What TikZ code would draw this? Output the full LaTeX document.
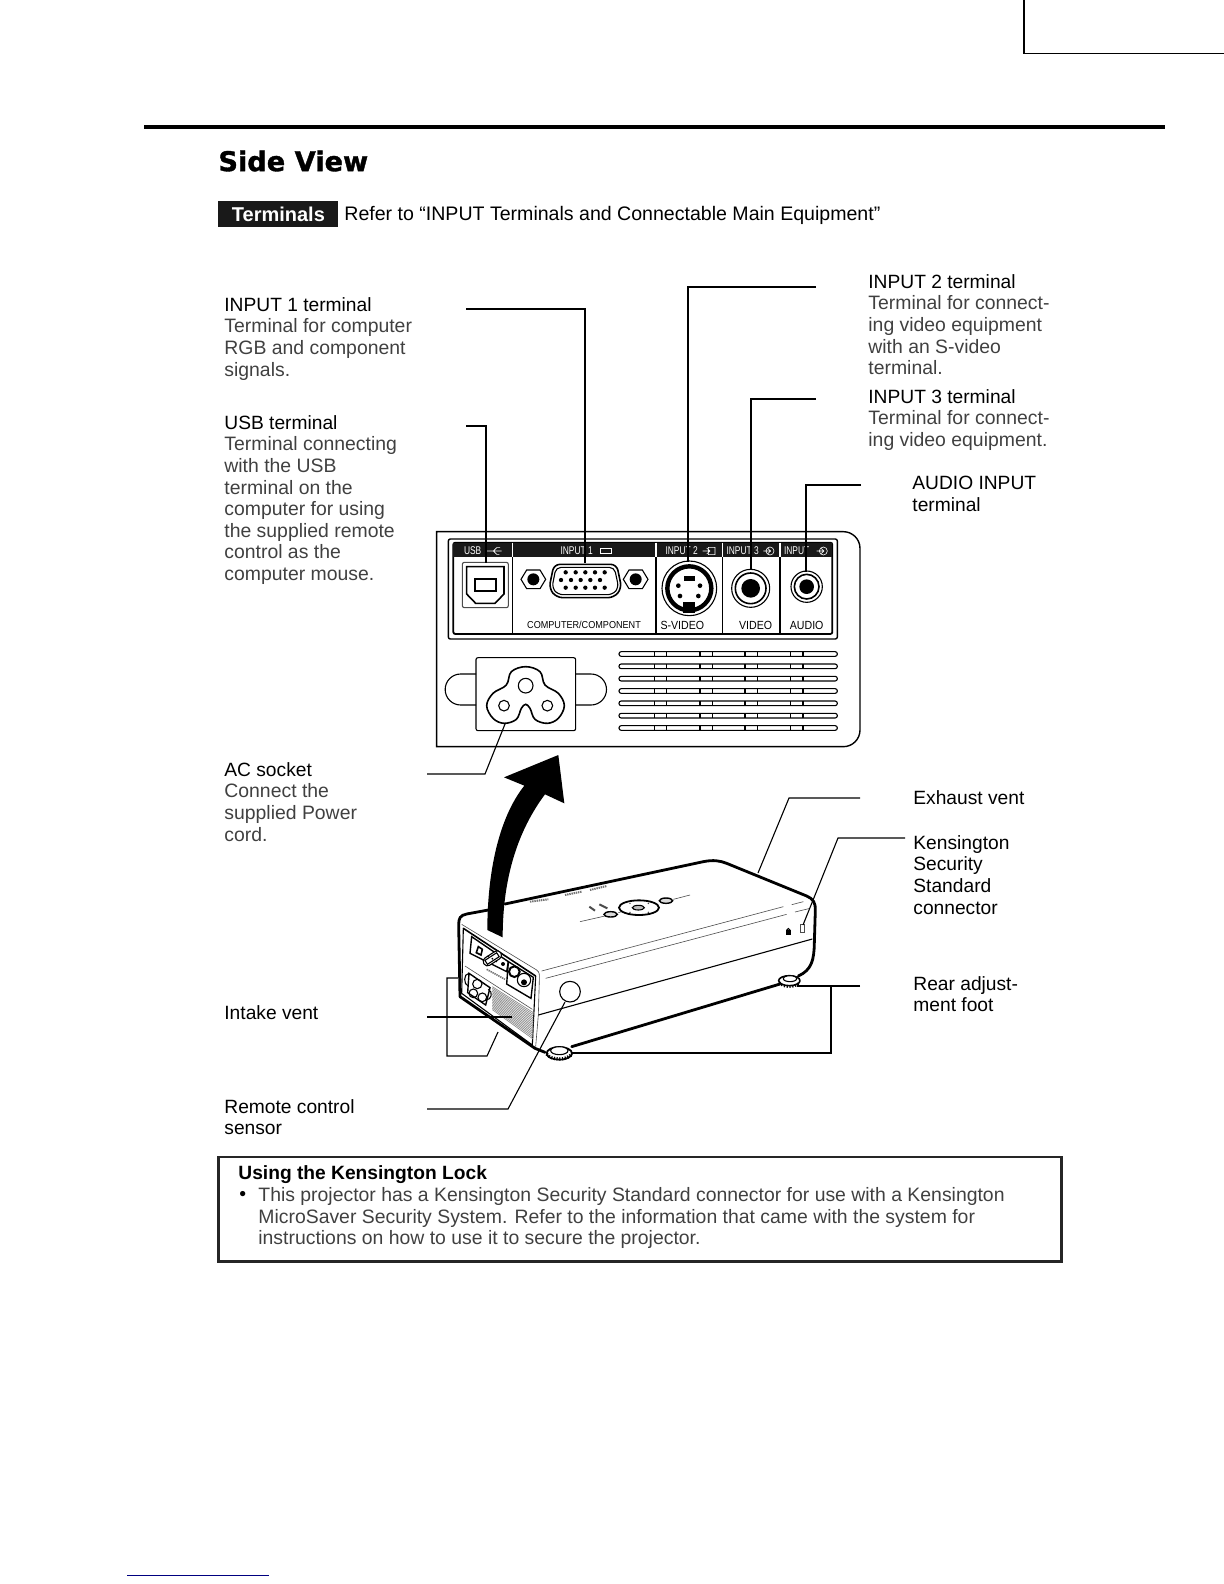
\documentclass[tikz,border=0pt]{standalone}
\usepackage{fontspec}
\setmainfont{Liberation Sans}
\newfontfamily\headfont[BoldFeatures={FakeBold=1.3}]{DejaVu Sans}
\newfontfamily\panelfont[FakeStretch=0.9]{Liberation Sans}
\newfontfamily\tabfont[FakeStretch=0.75]{Liberation Sans}
\newcommand{\lightpart}{\fontsize{9.7}{10.8}\selectfont\color{black!75}}
\usetikzlibrary{calc}

\begin{document}
\begin{tikzpicture}[
					x=0.5pt, y=-0.5pt,
					lbl/.style={anchor=north west, inner sep=0pt, align=left, font=\fontsize{9.6}{10.8}\selectfont},
					leader/.style={draw=black, line width=0.55pt},
					panelline/.style={draw=black, line width=0.55pt},
					hairline/.style={draw=black!70, line width=0.3pt},
					heavyline/.style={draw=black, line width=1.4pt, line cap=round, line join=round},
					tabtext/.style={inner sep=0pt, text=white, font=\tabfont\fontsize{5.6}{6}\selectfont},
					sockettext/.style={inner sep=0pt, font=\panelfont\fontsize{5.9}{6}\selectfont}
					]
					\useasboundingbox (0,0) rectangle (1224,1584);
					
					% --- Page furniture ---
					\coordinate (cornerbot) at (1024,53.5);
					\coordinate (cornertop) at (1024,0);
					\coordinate (cornerend) at (1224,53.5);
					\draw[line width=0.7pt] (cornertop) -- (cornerbot) -- (cornerend);
					\fill (144,125) rectangle (1165,129);
					\fill[blue!50!black] (127,1574.5) rectangle (269,1576);
					\node[anchor=west, inner sep=0pt, font=\headfont\fontsize{13.6}{16}\selectfont\bfseries] (title) at (218,161) {Side View};
					\node[anchor=west, fill=black!90, text=white, minimum width=60pt, minimum height=13pt, inner sep=0pt, font=\fontsize{10}{12}\selectfont\bfseries] (tab) at (218,214) {Terminals};
					\node[anchor=west, inner sep=0pt, font=\fontsize{9.78}{12}\selectfont] (refer) at (344,215) {Refer to “INPUT Terminals and Connectable Main Equipment”};
					
					% --- Left labels ---
					\node[lbl] (inputone) at (224,297) {INPUT 1 terminal\\\lightpart Terminal for computer\\\lightpart RGB and component\\\lightpart signals.};
					\node[lbl] (usb) at (224,415) {USB terminal\\\lightpart Terminal connecting\\\lightpart with the USB\\\lightpart terminal on the\\\lightpart computer for using\\\lightpart the supplied remote\\\lightpart control as the\\\lightpart computer mouse.};
					\node[lbl] (acsocket) at (224,762) {AC socket\\\lightpart Connect the\\\lightpart supplied Power\\\lightpart cord.};
					\node[lbl] (intake) at (224,1005) {Intake vent};
					\node[lbl] (remote) at (224,1099) {Remote control\\sensor};
					
					% --- Right labels ---
					\node[lbl] (inputtwo) at (868,274) {INPUT 2 terminal\\\lightpart Terminal for connect-\\\lightpart ing video equipment\\\lightpart with an S-video\\\lightpart terminal.};
					\node[lbl] (inputthree) at (868,389) {INPUT 3 terminal\\\lightpart Terminal for connect-\\\lightpart ing video equipment.};
					\node[lbl] (audio) at (912,476) {AUDIO INPUT\\terminal};
					\node[lbl] (exhaust) at (913,790) {Exhaust vent};
					\node[lbl] (kensington) at (913,835) {Kensington\\Security\\Standard\\connector};
					\node[lbl] (rearfoot) at (913,976) {Rear adjust-\\ment foot};
					
					% --- Terminal panel (coordinates of the 3x crop) ---
					\begin{scope}[shift={(430,520)}, scale=1/3]
						\draw[panelline, line width=0.7pt] (20,35) -- (1240,35) arc (-90:0:50) -- (1290,630) arc (0:90:50) -- (20,680) -- cycle;
						\draw[panelline, line width=0.7pt, rounded corners=1pt] (55,57) rectangle (1222,357);
						\draw[panelline, line width=0.9pt, rounded corners=1pt] (70,68) rectangle (1207,342);
						\fill[black!90] (70,68) rectangle (1207,110);
						\foreach \dx in {247,678,877,1050} {
							\draw[panelline] (\dx,110) -- (\dx,342);
							\draw[white, line width=0.7pt] (\dx,68) -- (\dx,110);
						}
						\node[tabtext] (tabusb) at (128,93) {USB};
						\node[tabtext] (tabone) at (440,93) {INPUT 1};
						\node[tabtext] (tabtwo) at (755,93) {INPUT 2};
						\node[tabtext] (tabthree) at (938,93) {INPUT 3};
						\node[tabtext] (tabfour) at (1100,93) {INPUT};
						\draw[white, line width=0.3pt] (170,93) -- (215,93) (190,93) -- (200,83) -- (210,83) (190,93) -- (200,103) -- (208,103);
						\draw[white, line width=0.35pt] (510,84) rectangle (545,100);
						\draw[white, line width=0.3pt] (818,93) -- (840,93) (830,84) -- (840,93) -- (830,102) (835,82) rectangle (855,104);
						\foreach \ix/\iy in {1020/93,1180/93} {
							\draw[white, line width=0.3pt] (\ix,\iy) circle (12) (\ix-20,\iy) -- (\ix+2,\iy) (\ix-6,\iy-7) -- (\ix+2,\iy) -- (\ix-6,\iy+7);
						}
						\node[sockettext, font=\panelfont\fontsize{5.05}{6}\selectfont] (lblcomputer) at (462,316) {COMPUTER/COMPONENT};
						\node[sockettext] (lblsvideo) at (757,316) {S-VIDEO};
						\node[sockettext] (lblvideo) at (977,316) {VIDEO};
						\node[sockettext] (lblaudio) at (1130,316) {AUDIO};
						
						% USB socket
						\draw[panelline, draw=black!70, rounded corners=1pt] (97,127) rectangle (235,263);
						\draw[panelline, line width=0.8pt] (110,140) -- (222,140) -- (222,222) -- (195,250) -- (137,250) -- (110,222) -- cycle;
						\draw[panelline, line width=0.8pt] (135,177) rectangle (198,213);
						
						% VGA socket
						\foreach \nx in {310,617} {
							\draw[panelline, shift={(\nx,178)}] (-37,0) -- (-20,-28) -- (20,-28) -- (37,0) -- (20,28) -- (-20,28) -- cycle;
							\fill (\nx,178) circle (18);
						}
						\draw[panelline, line width=0.8pt, rounded corners=3pt] (372,133) -- (560,133) -- (575,205) -- (552,233) -- (380,233) -- (357,205) -- cycle;
						\draw[panelline, rounded corners=2.5pt] (378,142) -- (553,142) -- (566,203) -- (548,224) -- (384,224) -- (366,203) -- cycle;
						\foreach \px in {407,437,466,495,524} {
							\fill (\px,157) circle (6.5);
							\fill (\px-14,180) circle (6.5);
							\fill (\px,203) circle (6.5);
						}
						
						% S-video socket
						\draw[panelline] (778,205) circle (82);
						\draw[line width=2.2pt] (778,205) circle (66);
						\fill (762,168) rectangle (794,184);
						\fill (760,245) rectangle (796,278);
						\foreach \px/\py in {745/197,810/197,750/228,805/228} {
							\fill (\px,\py) circle (7);
						}
						
						% Video and audio sockets
						\draw[panelline] (962,205) circle (57);
						\draw[panelline, line width=0.8pt] (962,205) circle (46);
						\fill (962,205) circle (28);
						\draw[panelline] (1130,200) circle (47);
						\draw[panelline, line width=0.8pt] (1130,200) circle (37);
						\fill (1130,200) circle (22);
						
						% AC inlet
						\draw[panelline] (138,462) -- (92,462) arc (270:90:46.5) -- (138,555);
						\draw[panelline] (437,462) -- (483,462) arc (-90:90:46.5) -- (437,555);
						\draw[panelline, rounded corners=1pt] (138,413) rectangle (437,632);
						\draw[panelline, line width=0.8pt] plot[smooth cycle, tension=0.6] coordinates {(287,440) (330,455) (345,495) (385,520) (403,557) (385,595) (352,610) (315,598) (300,565) (287,553) (274,565) (259,598) (222,610) (189,595) (170,557) (189,520) (229,495) (244,455)};
						\draw[panelline] (287,497) circle (22);
						\draw[panelline] (222,557) circle (16);
						\draw[panelline] (352,557) circle (16);
						
						% Vent slats
						\foreach \sy in {402,439,476,513,550,587,624} {
							\draw[panelline, rounded corners=1.1pt] (567,\sy-7) rectangle (1222,\sy+7);
							\foreach \sx in {673,710,810,847,945,982,1082,1119} {
								\draw[panelline] (\sx,\sy-7) -- (\sx,\sy+7);
							}
						}
					\end{scope}
					
					% --- Projector body (coordinates of the 3x crop) ---
					\begin{scope}[shift={(430,740)}, scale=1/3]
						\draw[heavyline] (225,492) -- (820,365) .. controls (850,359) and (870,362) .. (890,370) -- (1130,468) .. controls (1150,476) and (1157,490) .. (1156,510) -- (1153,610) .. controls (1152,660) and (1145,690) .. (1105,708);
						\draw[heavyline] (175,510) -- (110,522) .. controls (90,526) and (86,535) .. (86,555) -- (90,770) -- (315,925) -- (345,937);
						\draw[heavyline] (425,920) -- (1050,732);
						\draw[hairline] (95,553) -- (320,690) .. controls (330,697) and (328,705) .. (328,720) -- (325,825) -- (317,920);
						\draw[hairline] (335,693) -- (1060,500) (1085,494) -- (1120,485);
						\draw[hairline] (347,715) -- (1070,523) (1095,516) -- (1140,505);
						\draw[panelline] (325,825) -- (1147,597);
						\draw[hairline] (450,545) -- (525,528) (565,518) -- (575,515) (730,478) -- (780,465);
						\draw[panelline] (420,755) circle (31);
						
						% Controls on the top face
						\draw[panelline, line width=0.9pt] (627,503) ellipse (60 and 22);
						\draw[panelline, fill=black!25] (625,503) ellipse (18 and 7);
						\draw[panelline, line width=0.7pt, fill=black!15] (542,523) ellipse (20 and 8);
						\draw[panelline, line width=0.7pt, fill=black!15] (708,482) ellipse (20 and 8);
						\foreach \px/\py in {600/490,655/490,600/517,655/517} {
							\fill[black!70] (\px,\py) circle (2.5);
						}
						\draw[black!70, line width=1pt] (478,500) -- (495,512) (508,493) -- (532,505);
						\draw[black!55, line width=1pt, dash pattern=on 0.7pt off 0.4pt] (300,485) -- (355,478) (405,465) -- (455,455) (480,450) -- (530,438);
						
						% Lock and slot
						\fill (1068,570) rectangle (1082,585);
						\draw[line width=0.5pt] (1075,570) circle (4.5);
						\draw[hairline] (1112,552) rectangle (1123,578);
						
						% Feet
						\draw[heavyline, line width=0.8pt, fill=white] (1078,722) ellipse (32 and 15);
						\draw[panelline, fill=white] (1080,716) ellipse (20 and 9);
						\draw[heavyline, line width=0.9pt, fill=white] (388,940) ellipse (38 and 19);
						\draw[panelline, fill=white] (388,932) ellipse (26 and 12);
						\draw[black, line width=1.6pt, dash pattern=on 0.6pt off 0.8pt] (350,942) .. controls (365,962) and (410,962) .. (426,942);
						\draw[black, line width=1.3pt, dash pattern=on 0.6pt off 0.8pt] (1048,728) .. controls (1060,744) and (1095,744) .. (1108,728);
					\end{scope}
					
					% --- Rear face of the projector ---
					\begin{scope}[shift={(445,890)}, scale=1/3]
						\draw[heavyline, line width=0.8pt] (55,115) -- (272,258);
						\draw[panelline] (55,115) -- (50,310) -- (262,465) -- (272,258);
						\draw[hairline] (60,228) -- (262,358);
						\draw[panelline, line width=0.7pt] (80,140) -- (190,215) -- (185,245) -- (75,190) -- cycle;
						\draw[panelline, line width=0.7pt] (190,215) -- (265,262) -- (258,325) -- (185,282) -- cycle;
						\draw[panelline, rotate around={33:(142,205)}, rounded corners=2pt, fill=white] (112,192) rectangle (172,218);
						\draw[panelline, rotate around={33:(142,205)}] (120,198) rectangle (162,212);
						\foreach \px/\py in {130/198,142/206,154/214} {
							\fill (\px,\py) circle (3);
						}
						\draw[panelline, line width=0.8pt] (100,170) -- (112,178) -- (108,195) -- (94,188) -- cycle;
						\fill (174,222) circle (6);
						\draw[black!55, line width=0.8pt, dash pattern=on 0.7pt off 0.4pt] (125,238) -- (180,268);
						\draw[panelline, line width=1pt] (208,245) circle (16);
						\fill (237,277) circle (9);
						\draw[panelline] (237,270) circle (20);
						\draw[panelline, line width=0.7pt] (72,250) -- (135,293) -- (122,345) -- (68,308) -- cycle;
						\draw[panelline] (72,250) .. controls (55,250) and (55,285) .. (70,288);
						\draw[panelline] (130,298) .. controls (145,305) and (140,330) .. (123,330);
						\draw[panelline] (97,282) circle (14);
						\draw[panelline] (85,310) circle (13);
						\draw[panelline] (112,322) circle (13);
						\foreach \hh in {0,1,...,15} {
							\draw[black!45, line width=0.35pt] (142,{290+\hh*4.6}) -- (265,{368+\hh*5.3});
						}
					\end{scope}
					
					% --- Lift arrow ---
					\begin{scope}[shift={(430,740)}, scale=1/3]
						\fill (172,570) .. controls (172,400) and (205,235) .. (283,137) -- (222,112) -- (385,45) -- (403,190) -- (345,163) .. controls (265,270) and (218,410) .. (218,592) -- cycle;
					\end{scope}
					
					% --- Leader ends ---
					\coordinate (usbleft) at (466,426);
					\coordinate (usbkink) at (486,426);
					\coordinate (usbend) at (486,563);
					\coordinate (oneleft) at (466,309);
					\coordinate (onekink) at (585,309);
					\coordinate (oneend) at (585,563);
					\coordinate (tworight) at (816,287);
					\coordinate (twokink) at (688,287);
					\coordinate (twoend) at (688,562);
					\coordinate (threeright) at (816,399);
					\coordinate (threekink) at (751,399);
					\coordinate (threeend) at (751,570);
					\coordinate (audioright) at (861,485);
					\coordinate (audiokink) at (806,485);
					\coordinate (audioend) at (806,572);
					\coordinate (acleft) at (427,774);
					\coordinate (ackink) at (485,774);
					\coordinate (acend) at (505,724);
					\coordinate (exright) at (860,798);
					\coordinate (exkink) at (789,798);
					\coordinate (exend) at (758,873);
					\coordinate (kenright) at (905,838);
					\coordinate (kenkink) at (838,838);
					\coordinate (kenend) at (803,925);
					\coordinate (footright) at (860,986);
					\coordinate (footrear) at (797,986);
					\coordinate (footsplit) at (831,986);
					\coordinate (footlow) at (831,1053);
					\coordinate (footfront) at (572,1053);
					\coordinate (intakeleft) at (427,1017);
					\coordinate (intakeend) at (512,1017);
					\coordinate (brtop) at (458,978);
					\coordinate (brcornera) at (447,978);
					\coordinate (brcornerb) at (447,1056);
					\coordinate (brcornerc) at (487,1056);
					\coordinate (brend) at (498,1032);
					\coordinate (remoteleft) at (427,1109);
					\coordinate (remotekink) at (508,1109);
					\coordinate (remoteend) at (565,1002);
					
					% --- Leaders ---
					\draw[leader] (usbleft) -- (usbkink) -- (usbend);
					\draw[leader] (oneleft) -- (onekink) -- (oneend);
					\draw[leader] (tworight) -- (twokink) -- (twoend);
					\draw[leader] (threeright) -- (threekink) -- (threeend);
					\draw[leader] (audioright) -- (audiokink) -- (audioend);
					\draw[leader] (acleft) -- (ackink) -- (acend);
					\draw[leader] (exright) -- (exkink) -- (exend);
					\draw[leader] (kenright) -- (kenkink) -- (kenend);
					\draw[leader] (footright) -- (footrear);
					\draw[leader] (footsplit) -- (footlow) -- (footfront);
					\draw[leader] (intakeleft) -- (intakeend);
					\draw[leader] (brtop) -- (brcornera) -- (brcornerb) -- (brcornerc) -- (brend);
					\draw[leader] (remoteleft) -- (remotekink) -- (remoteend);
					
					% --- Kensington note ---
					\draw[line width=1.1pt, draw=black!85] (218.5,1157) rectangle (1061.5,1261.5);
					\node[lbl, font=\fontsize{9.6}{10.8}\selectfont\bfseries] (notehead) at (238,1165) {Using the Kensington Lock};
					\node[lbl, font=\fontsize{9.7}{10.8}\selectfont] (notebullet) at (239,1191) {•};
					\node[lbl] (notebody) at (258,1187) {\lightpart This projector has a Kensington Security Standard connector for use with a Kensington\\\lightpart MicroSaver Security System. Refer to the information that came with the system for\\\lightpart instructions on how to use it to secure the projector.};
				\end{tikzpicture}
\end{document}
